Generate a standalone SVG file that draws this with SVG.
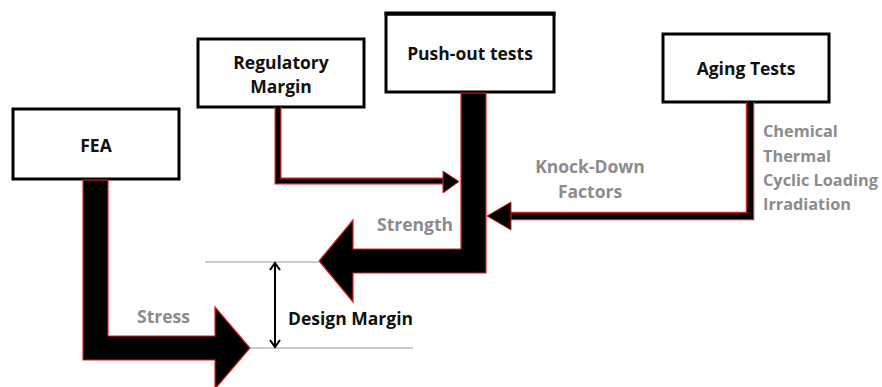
<svg xmlns="http://www.w3.org/2000/svg" width="882" height="387" viewBox="0 0 882 387">
  <style>
    .box { fill: #fff; stroke: #000; stroke-width: 3; }
    .lbl { font-family: "Open Sans", "Liberation Sans", sans-serif; font-weight: 700; font-size: 17.5px; fill: #111; }
    .gray { font-family: "Open Sans", "Liberation Sans", sans-serif; font-weight: 700; font-size: 17.5px; fill: #8c8c8c; }
    .list { font-size: 16.3px; }
    .big { fill: #000; stroke: #e02020; stroke-width: 1.2; stroke-linejoin: miter; }
    .edge-red { fill: none; stroke: #e02020; }
    .edge-blk { fill: none; stroke: #000; }
    .head { fill: #000; stroke: #e02020; stroke-width: 1; }
    .guide { stroke: #9a9a9a; stroke-width: 1.2; fill: none; }
  </style>

  <!-- nodes -->
  <g id="fea">
    <rect class="box" x="13" y="109" width="166" height="70"/>
    <text class="lbl" x="96" y="152" text-anchor="middle">FEA</text>
  </g>
  <g id="regulatory-margin">
    <rect class="box" x="198" y="39" width="166" height="68"/>
    <text class="lbl" x="281" y="69" text-anchor="middle">Regulatory</text>
    <text class="lbl" x="281" y="93" text-anchor="middle">Margin</text>
  </g>
  <g id="push-out-tests">
    <rect class="box" x="386" y="14" width="168" height="78"/>
    <line x1="384.5" y1="13.5" x2="555.5" y2="13.5" stroke="#000" stroke-width="4"/>
    <text class="lbl" x="470" y="60" text-anchor="middle">Push-out tests</text>
  </g>
  <g id="aging-tests">
    <rect class="box" x="663" y="34" width="166" height="68"/>
    <text class="lbl" x="746" y="75" text-anchor="middle">Aging Tests</text>
  </g>

  <!-- connectors -->
  <g id="connectors">
    <!-- stress path from FEA -->
    <polygon class="big" points="83,180 108,180 108,336 215,336 215,307 250,348 215,389 215,360 83,360"/>
    <!-- strength path from push-out tests -->
    <polygon class="big" points="461,93 486,93 486,249 486,273 353,273 353,302 319,261 353,220 353,249 461,249"/>
    <!-- regulatory margin into strength -->
    <path class="edge-red" d="M278,107 V181 H446" stroke-width="7"/>
    <path class="edge-blk" d="M278,107 V181 H446" stroke-width="4.5"/>
    <polygon class="head" points="443,171 459,181.5 443,193"/>
    <!-- knock-down factors from aging tests -->
    <path class="edge-red" d="M750,102 V216 H508" stroke-width="8.5"/>
    <path class="edge-blk" d="M750,102 V216 H508" stroke-width="6"/>
    <polygon class="head" points="511,202 487,216 511,230"/>
  </g>

  <!-- design margin dimension -->
  <g id="design-margin">
    <line class="guide" x1="205" y1="262" x2="320" y2="262"/>
    <line class="guide" x1="250" y1="348" x2="413" y2="348"/>
    <line x1="275" y1="264" x2="275" y2="346" stroke="#000" stroke-width="2"/>
    <polyline points="270,270 275,263 280,270" fill="none" stroke="#000" stroke-width="2"/>
    <polyline points="270,340 275,347 280,340" fill="none" stroke="#000" stroke-width="2"/>
    <text class="lbl" x="288" y="325">Design Margin</text>
  </g>

  <!-- flow labels -->
  <g id="labels">
    <text class="gray" x="137" y="323">Stress</text>
    <text class="gray" x="377" y="231">Strength</text>
    <text class="gray" x="590" y="173" text-anchor="middle">Knock-Down</text>
    <text class="gray" x="590" y="198" text-anchor="middle">Factors</text>
    <text class="gray list" x="763" y="137">Chemical</text>
    <text class="gray list" x="763" y="162">Thermal</text>
    <text class="gray list" x="763" y="186">Cyclic Loading</text>
    <text class="gray list" x="763" y="210">Irradiation</text>
  </g>
</svg>
